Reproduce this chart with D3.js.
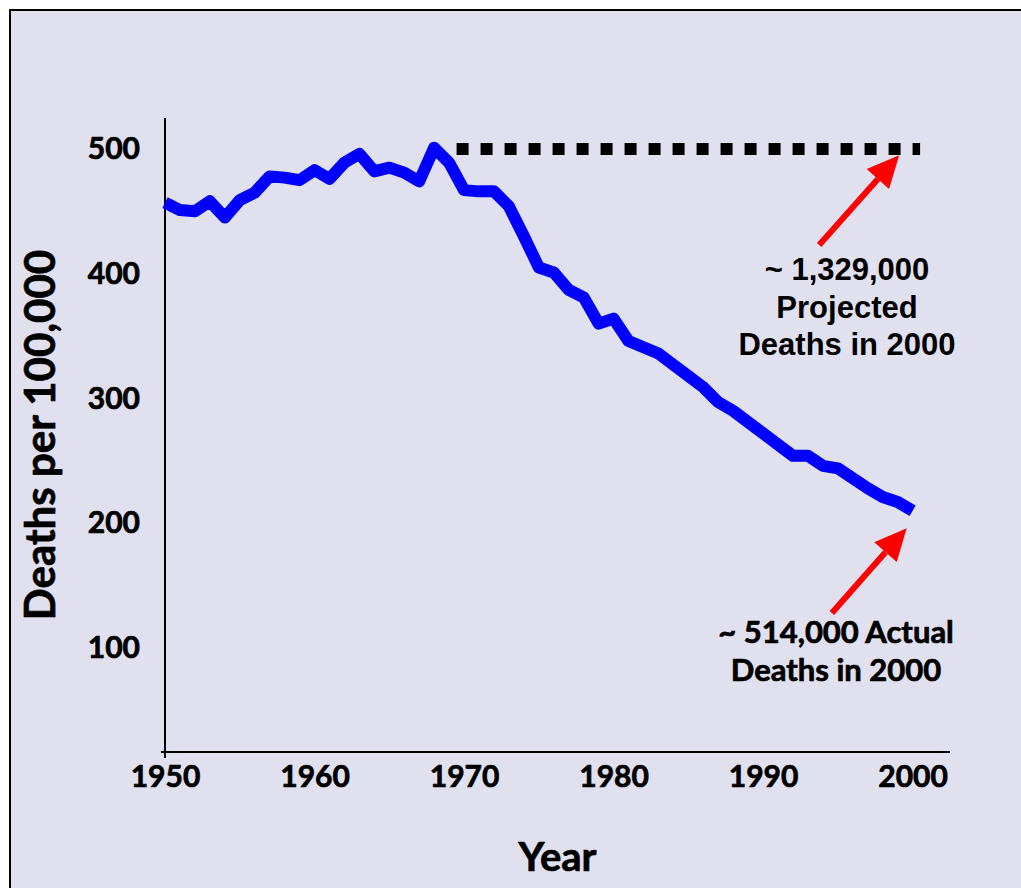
<!DOCTYPE html>
<html>
<head>
<meta charset="utf-8">
<script src="https://cdn.jsdelivr.net/npm/d3@7"></script>
<style>
  body { margin: 0; background: #fff; }
  svg { display: block; }
</style>
</head>
<body>
<div class="chart"></div>
<script>
// death rate per 100,000
const years = d3.range(1950, 2001);
const rates = [
  457, 451, 450, 458, 445, 459, 465, 478, 477, 475,
  483, 476, 489, 496, 482, 485, 481, 474, 501, 489,
  467, 466, 466, 454, 430, 405, 401, 387, 381, 360,
  364, 346, 341, 336, 327, 318, 309, 297, 290, 281,
  272, 263, 254, 254, 246, 244, 236, 228, 221, 217,
  210
];
// projected rate if 1970 level had held
const projYears = [1969.5, 2000.5];
const projRates = [500, 500];

const xTicks = [1950, 1960, 1970, 1980, 1990, 2000];
const yTicks = [100, 200, 300, 400, 500];

const W = 1021, H = 888;

const svg = d3.select(".chart")
  .append("svg")
  .attr("width", W)
  .attr("height", H);

// panel with border
svg.append("rect")
  .attr("x", 10).attr("y", 10)
  .attr("width", W + 10).attr("height", H + 10)
  .attr("fill", "#e0e0ee")
  .attr("stroke", "#000")
  .attr("stroke-width", 2);

const x = d3.scaleLinear().domain([1950, 2002.5]).range([165, 950]);
const y = d3.scaleLinear().domain([16.6, 524.8]).range([752, 118]);

const font = "Lato, 'Open Sans', sans-serif";

// heavier bold to get closer to the original's font
const heavy = sel => sel
  .style("font-family", font)
  .style("font-weight", "bold")
  .style("stroke", "#000")
  .style("stroke-width", "0.7px")
  .style("fill", "#000");

// axes lines
svg.append("line")
  .attr("x1", x(1950)).attr("x2", x(1950))
  .attr("y1", y.range()[1]).attr("y2", y.range()[0] + 6)
  .attr("stroke", "#000").attr("stroke-width", 2);
svg.append("line")
  .attr("x1", x(1950) - 4).attr("x2", x.range()[1])
  .attr("y1", y.range()[0]).attr("y2", y.range()[0])
  .attr("stroke", "#000").attr("stroke-width", 2);

// tick labels via d3 axes (no tick marks)
const xAxis = svg.append("g")
  .attr("transform", `translate(0, ${y.range()[0]})`)
  .call(d3.axisBottom(x).tickValues(xTicks).tickFormat(d3.format("d")).tickSize(0).tickPadding(14));
const yAxis = svg.append("g")
  .attr("transform", `translate(${x(1950)}, 0)`)
  .call(d3.axisLeft(y).tickValues(yTicks).tickSize(0).tickPadding(25));

[xAxis, yAxis].forEach(g => {
  g.select(".domain").remove();
  g.selectAll("text")
    .call(heavy)
    .style("font-size", "30px");
});

// projected line (dotted squares)
const proj = projYears.map((d, i) => ({ year: d, rate: projRates[i] }));
svg.append("path")
  .datum(proj)
  .attr("fill", "none")
  .attr("stroke", "#000")
  .attr("stroke-width", 12)
  .attr("stroke-dasharray", "12 12")
  .attr("d", d3.line().x(d => x(d.year)).y(d => y(d.rate)));

// actual line
const data = years.map((d, i) => ({ year: d, rate: rates[i] }));
svg.append("path")
  .datum(data)
  .attr("fill", "none")
  .attr("stroke", "#0000ff")
  .attr("stroke-width", 12)
  .attr("stroke-linejoin", "round")
  .attr("d", d3.line().x(d => x(d.year)).y(d => y(d.rate)));

// arrows
const drawArrow = (x1, y1, x2, y2) => {
  const ang = Math.atan2(y2 - y1, x2 - x1);
  const headLen = 32, headW = 15;
  const bx = x2 - headLen * Math.cos(ang), by = y2 - headLen * Math.sin(ang);
  svg.append("line")
    .attr("x1", x1).attr("y1", y1).attr("x2", bx).attr("y2", by)
    .attr("stroke", "#ff0000").attr("stroke-width", 6);
  const px = Math.sin(ang) * headW, py = -Math.cos(ang) * headW;
  svg.append("polygon")
    .attr("points", `${x2},${y2} ${bx + px},${by + py} ${bx - px},${by - py}`)
    .attr("fill", "#ff0000");
};
drawArrow(x(1993.75), y(423), x(1999.1), y(495));
drawArrow(x(1994.6), y(128), x(1999.6), y(196));

// annotation texts
const noteTop = svg.append("text")
  .attr("text-anchor", "middle")
  .style("font-family", "'Liberation Sans', Arial, sans-serif")
  .style("font-weight", "bold")
  .style("font-size", "31px");
["~ 1,329,000", "Projected", "Deaths in 2000"].forEach((t, i) => {
  noteTop.append("tspan").attr("x", 847).attr("y", 280 + i * 37.5).text(t);
});

const noteBot = svg.append("text")
  .attr("text-anchor", "middle")
  .call(heavy)
  .style("font-size", "31px");
["~ 514,000 Actual", "Deaths in 2000"].forEach((t, i) => {
  noteBot.append("tspan").attr("x", 836).attr("y", 643 + i * 38).text(t);
});

// axis titles
svg.append("text")
  .attr("x", (x.range()[0] + x.range()[1]) / 2)
  .attr("y", 871)
  .attr("text-anchor", "middle")
  .call(heavy)
  .style("font-size", "40px")
  .text("Year");

svg.append("text")
  .attr("transform", `translate(55, ${(y.range()[0] + y.range()[1]) / 2}) rotate(-90)`)
  .attr("text-anchor", "middle")
  .call(heavy)
  .style("font-size", "42px")
  .text("Deaths per 100,000");
</script>
</body>
</html>
